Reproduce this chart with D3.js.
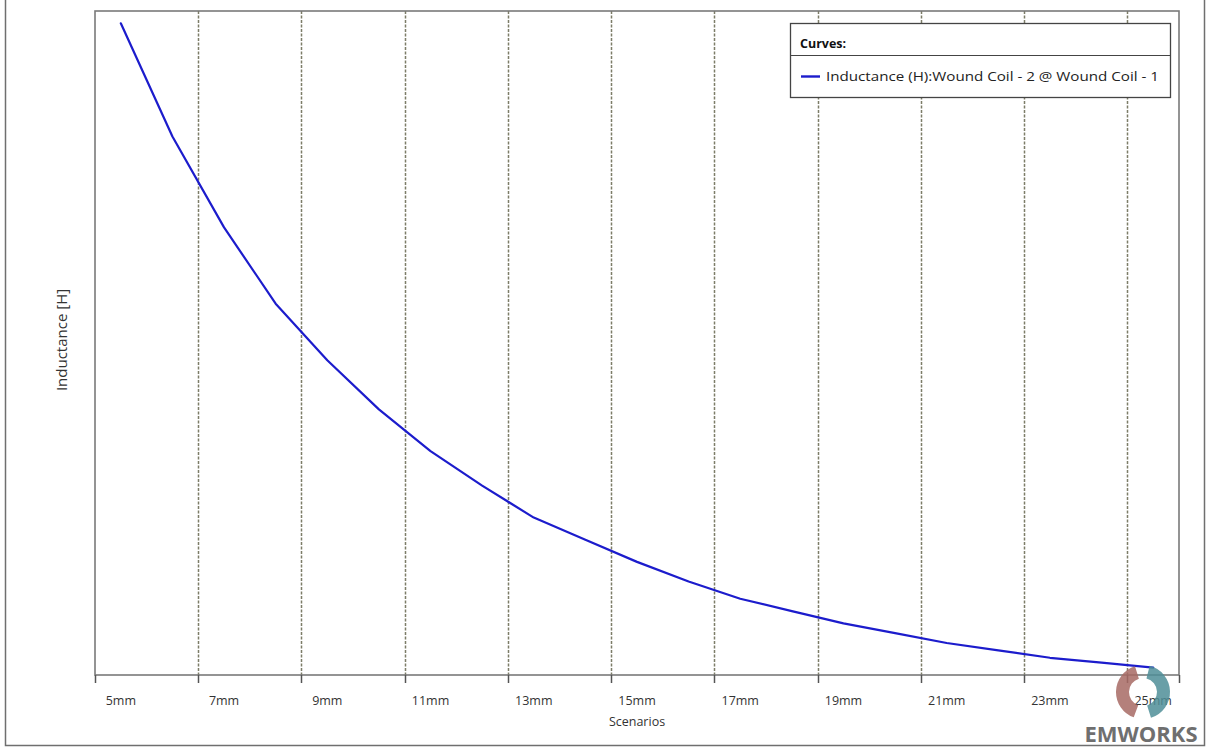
<!DOCTYPE html>
<html>
<head>
<meta charset="utf-8">
<script src="https://cdn.jsdelivr.net/npm/d3@7"></script>
<style>
  html, body { margin: 0; padding: 0; background: #fff; }
  svg { display: block; }
  text { font-family: "Open Sans", "Noto Sans", sans-serif; }
</style>
</head>
<body>
<svg id="chart" width="1206" height="747"></svg>
<script>
// ---- data ----
const scenarios = ["5mm","6mm","7mm","8mm","9mm","10mm","11mm","12mm","13mm","14mm","15mm",
                   "16mm","17mm","18mm","19mm","20mm","21mm","22mm","23mm","24mm","25mm"];
// Inductance (µH; the original axis has no tick values)
const inductance = [2.95, 2.49, 2.12, 1.81, 1.58, 1.38, 1.21, 1.07, 0.94, 0.85, 0.76,
                    0.68, 0.61, 0.56, 0.51, 0.47, 0.43, 0.40, 0.37, 0.35, 0.33];
const tickLabels = ["5mm","7mm","9mm","11mm","13mm","15mm","17mm","19mm","21mm","23mm","25mm"];
const seriesName = "Inductance (H):Wound Coil - 2 @ Wound Coil - 1";
const yDomain = [0.30, 3.00];

const svg = d3.select("#chart");
const L = 95, R = 1179, T = 11, B = 675;

// outer frame
svg.append("path")
  .attr("d", `M5.5,0 V745.5 H1204.5 V0`)
  .attr("fill", "none").attr("stroke", "#6f6f6f").attr("stroke-width", 1.5);

const x = d3.scaleBand().domain(scenarios).range([L, R]).paddingInner(0).paddingOuter(0);
const y = d3.scaleLinear().domain(yDomain).range([B, T]);

// gridlines (at left edge of every other band except first)
const gridCats = tickLabels.slice(1);
svg.append("g").selectAll("line").data(gridCats).join("line")
  .attr("x1", d => Math.round(x(d)) + 0.5).attr("x2", d => Math.round(x(d)) + 0.5)
  .attr("y1", T).attr("y2", B)
  .attr("stroke", "#7d7d68").attr("stroke-width", 1.5)
  .attr("stroke-dasharray", "3,1.5");

// plot frame
svg.append("rect")
  .attr("x", L).attr("y", T).attr("width", R - L).attr("height", B - T)
  .attr("fill", "none").attr("stroke", "#7a7a7a").attr("stroke-width", 1.6);

// x axis ticks
const tickPos = tickLabels.map(d => x(d)).concat([R]);
svg.append("g").selectAll("line").data(tickPos).join("line")
  .attr("x1", d => Math.round(d) + 0.5).attr("x2", d => Math.round(d) + 0.5)
  .attr("y1", B).attr("y2", B + 8)
  .attr("stroke", "#555").attr("stroke-width", 1.5);

// x labels centred on band
svg.append("g").selectAll("text").data(tickLabels).join("text")
  .attr("x", d => x(d) + x.bandwidth() / 2)
  .attr("y", 705)
  .attr("text-anchor", "middle")
  .attr("font-size", 12.5)
  .attr("fill", "#333")
  .text(d => d);

// axis titles
svg.append("text").attr("x", 637).attr("y", 726).attr("text-anchor", "middle")
  .attr("font-size", 12.5).attr("fill", "#333").text("Scenarios");
svg.append("text")
  .attr("transform", "translate(67,340) rotate(-90)")
  .attr("text-anchor", "middle").attr("font-size", 15).attr("fill", "#333")
  .text("Inductance [H]");

// curve
const line = d3.line()
  .x((d, i) => x(scenarios[i]) + x.bandwidth() / 2)
  .y(d => y(d));
svg.append("path").datum(inductance)
  .attr("d", line)
  .attr("fill", "none").attr("stroke", "#1c1ccc").attr("stroke-width", 2.2)
  .attr("stroke-linejoin", "round").attr("stroke-linecap", "round");

// legend
const lg = svg.append("g");
lg.append("rect").attr("x", 790.5).attr("y", 23.5).attr("width", 380).attr("height", 74)
  .attr("fill", "#fff").attr("stroke", "#444").attr("stroke-width", 1.3);
lg.append("line").attr("x1", 790.5).attr("x2", 1170.5).attr("y1", 55.5).attr("y2", 55.5)
  .attr("stroke", "#444").attr("stroke-width", 1);
lg.append("text").attr("x", 800).attr("y", 48).attr("font-size", 12.5)
  .attr("font-weight", "bold").attr("fill", "#111").text("Curves:");
lg.append("line").attr("x1", 801).attr("x2", 820).attr("y1", 76.5).attr("y2", 76.5)
  .attr("stroke", "#1c1ccc").attr("stroke-width", 2.4);
lg.append("text").attr("x", 826).attr("y", 81).attr("font-size", 12.5)
  .attr("fill", "#222").attr("textLength", 333).attr("lengthAdjust", "spacingAndGlyphs")
  .text(seriesName);

// EMWORKS logo (decorative)
const logo = svg.append("g").attr("opacity", 0.85);
const arc = d3.arc();
logo.append("path")
  .attr("transform", "translate(1143,692)")
  .attr("d", arc({innerRadius: 14, outerRadius: 27, startAngle: -0.3, endAngle: -Math.PI + 0.35}))
  .attr("fill", "#a86a64");
logo.append("path")
  .attr("transform", "translate(1143,692)")
  .attr("d", arc({innerRadius: 14, outerRadius: 27, startAngle: 0.25, endAngle: Math.PI - 0.3}))
  .attr("fill", "#4f8f98");
svg.append("text").attr("x", 1141).attr("y", 742).attr("text-anchor", "middle")
  .attr("font-size", 22).attr("font-weight", "bold").attr("fill", "#6f6f6f")
  .attr("font-family", "Liberation Sans, Arial, sans-serif")
  .text("EMWORKS");
</script>
</body>
</html>
